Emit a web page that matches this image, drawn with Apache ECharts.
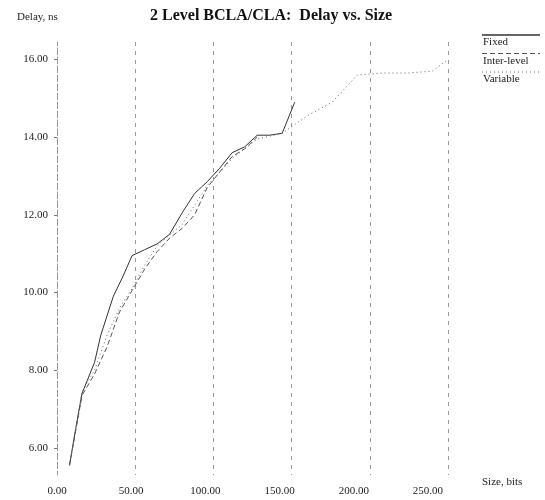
<!DOCTYPE html>
<html>
<head>
<meta charset="utf-8">
<script src="https://cdn.jsdelivr.net/npm/echarts@6/dist/echarts.min.js"></script>
<style>
html,body{margin:0;padding:0;background:#fff;}
#chart{width:545px;height:500px;}
</style>
</head>
<body>
<div id="chart"></div>
<script>
// ---- data ----
var seriesNames = ['Fixed', 'Inter-level', 'Variable'];
var fixedX = [8, 12, 16, 24, 28, 36, 42, 48, 56, 64, 72, 80, 88, 96, 104, 112, 120, 128, 136, 144, 152];
var fixedY = [5.55, 6.5, 7.4, 8.2, 8.9, 9.9, 10.4, 10.95, 11.1, 11.25, 11.5, 12.05, 12.55, 12.85, 13.2, 13.6, 13.75, 14.05, 14.05, 14.1, 14.9];
var interX = [8, 16, 24, 32, 40, 48, 56, 64, 72, 80, 88, 96, 104, 112, 120, 128];
var interY = [5.55, 7.35, 7.9, 8.6, 9.5, 10.05, 10.6, 11.05, 11.4, 11.65, 12.0, 12.7, 13.1, 13.5, 13.7, 14.0];
var varX = [8, 16, 24, 32, 40, 48, 56, 64, 80, 96, 112, 128, 144, 160, 176, 192, 208, 224, 240, 250];
var varY = [5.55, 7.45, 8.0, 8.9, 9.6, 10.1, 10.7, 11.2, 11.75, 12.75, 13.45, 13.95, 14.1, 14.55, 14.9, 15.6, 15.65, 15.65, 15.7, 16.0];
var xTickLabels = [0, 50, 100, 150, 200, 250];
var yTickLabels = [6, 8, 10, 12, 14, 16];

function pairs(xs, ys) { return xs.map(function (x, i) { return [x, ys[i]]; }); }

var serif = '"Liberation Serif", "DejaVu Serif", serif';
var chart = echarts.init(document.getElementById('chart'), null, {renderer: 'canvas'});

var lineStyles = [
  {color: '#333', width: 1, type: 'solid'},
  {color: '#555', width: 1, type: [5, 3]},
  {color: '#666', width: 1, type: [1, 3]}
];
var datasets = [pairs(fixedX, fixedY), pairs(interX, interY), pairs(varX, varY)];

// legend drawn as sample line above each name
var legendGraphics = [];
seriesNames.forEach(function (n, i) {
  var y0 = 35 + i * 18.5;
  legendGraphics.push({
    type: 'line', shape: {x1: 482, y1: y0, x2: 540, y2: y0},
    style: {stroke: lineStyles[i].color, lineWidth: i === 0 ? 1.5 : 1, lineDash: i === 0 ? null : lineStyles[i].type}
  });
  legendGraphics.push({
    type: 'text', left: 483, top: y0 + 2,
    style: {text: n, font: '11px ' + serif, fill: '#222'}
  });
});

chart.setOption({
  animation: false,
  backgroundColor: '#fff',
  title: [
    {text: '2 Level BCLA/CLA:  Delay vs. Size', left: 145, top: 3,
     textStyle: {fontFamily: serif, fontWeight: 'bold', fontSize: 16, color: '#111'}},
    {text: 'Delay, ns', left: 12, top: 7,
     textStyle: {fontFamily: serif, fontWeight: 'normal', fontSize: 11, color: '#222'}}
  ],
  grid: {left: 57, right: 97, top: 42, bottom: 25, containLabel: false},
  xAxis: [
    {type: 'value', min: 0, max: 250, interval: 50, position: 'bottom',
     axisLine: {show: false}, axisTick: {show: false}, axisLabel: {show: false},
     splitLine: {show: true, lineStyle: {color: '#999', width: 1, type: [4, 5]}}},
    {type: 'value', min: 0, max: 263.5, interval: 50, position: 'bottom',
     axisLine: {show: false}, axisTick: {show: false}, splitLine: {show: false},
     axisLabel: {customValues: xTickLabels, margin: 11,
       formatter: function (v) { return v.toFixed(2); },
       fontFamily: serif, fontSize: 11, color: '#222'},
     name: 'Size, bits', nameLocation: 'end', nameGap: 34,
     nameTextStyle: {fontFamily: serif, fontSize: 11, color: '#222', verticalAlign: 'top', padding: [2, 0, 0, 0]}}
  ],
  yAxis: {
    type: 'value', min: 5.3, max: 16.45,
    axisLine: {show: true, lineStyle: {color: '#999', width: 1, type: [4, 5]}},
    axisTick: {show: true, customValues: yTickLabels, length: 3, lineStyle: {color: '#777'}},
    axisLabel: {customValues: yTickLabels, margin: 9,
      formatter: function (v) { return v.toFixed(2); },
      fontFamily: serif, fontSize: 11, color: '#222'},
    splitLine: {show: false}
  },
  series: seriesNames.map(function (n, i) {
    return {
      name: n, type: 'line', xAxisIndex: 0, data: datasets[i],
      showSymbol: false, symbol: 'none', smooth: false,
      lineStyle: lineStyles[i]
    };
  }),
  graphic: legendGraphics
});
</script>
</body>
</html>
